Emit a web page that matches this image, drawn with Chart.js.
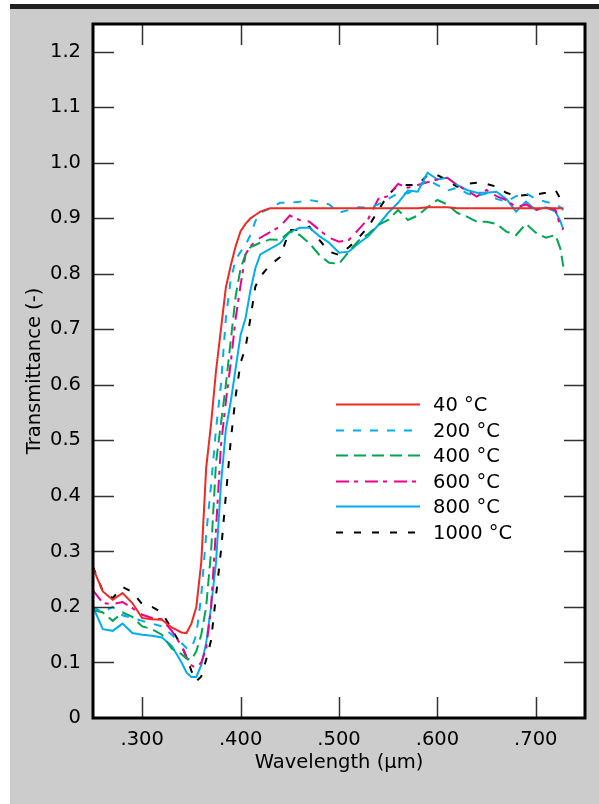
<!DOCTYPE html>
<html>
<head>
<meta charset="utf-8">
<title>Transmittance vs wavelength</title>
<script src="https://cdn.jsdelivr.net/npm/chart.js@4.4.1/dist/chart.umd.min.js"></script>
<style>
  html, body { margin: 0; padding: 0; background: #fff; }
  body { width: 599px; height: 804px; position: relative; overflow: hidden; }
  .rule { position: absolute; left: 10px; top: 4px; right: 0; height: 5px; background: #231f20; }
  .panel { position: absolute; left: 10px; top: 9px; right: 0; bottom: 0; background: #cccccc; }
  canvas { position: absolute; left: 0; top: 0; }
</style>
</head>
<body>
<div class="rule"></div>
<div class="panel"></div>
<canvas id="transmittance" width="599" height="804"></canvas>
<script>
// wavelength grid in µm (finer steps through the absorption edge)
const wavelength = [
  0.25, 0.26, 0.27, 0.28, 0.29, 0.30, 0.31, 0.32, 0.33, 0.34,
  0.345, 0.35, 0.355, 0.36, 0.365, 0.37, 0.375, 0.38, 0.385, 0.39,
  0.395, 0.40, 0.405, 0.41, 0.415, 0.42, 0.43, 0.44, 0.45, 0.46,
  0.47, 0.48, 0.49, 0.50, 0.51, 0.52, 0.53, 0.54, 0.55, 0.56,
  0.57, 0.58, 0.59, 0.60, 0.61, 0.62, 0.63, 0.64, 0.65, 0.66,
  0.67, 0.68, 0.69, 0.70, 0.71, 0.72, 0.725, 0.728
];

const t40 = [
  0.270, 0.228, 0.213, 0.225, 0.207, 0.180, 0.178, 0.177, 0.163, 0.154,
  0.153, 0.170, 0.200, 0.280, 0.450, 0.530, 0.625, 0.700, 0.775, 0.815,
  0.850, 0.877, 0.890, 0.900, 0.906, 0.912, 0.918, 0.918, 0.918, 0.918,
  0.918, 0.918, 0.918, 0.918, 0.918, 0.918, 0.918, 0.918, 0.918, 0.918,
  0.918, 0.918, 0.920, 0.920, 0.920, 0.918, 0.918, 0.918, 0.918, 0.918,
  0.918, 0.918, 0.918, 0.918, 0.918, 0.918, 0.918, 0.918
];

const t200 = [
  0.200, 0.190, 0.200, 0.185, 0.180, 0.175, 0.170, 0.165, 0.150, 0.135,
  0.126, 0.125, 0.150, 0.220, 0.330, 0.420, 0.520, 0.600, 0.720, 0.790,
  0.825, 0.840, 0.852, 0.870, 0.895, 0.910, 0.918, 0.928, 0.928, 0.930,
  0.933, 0.930, 0.925, 0.910, 0.915, 0.920, 0.919, 0.925, 0.935, 0.945,
  0.945, 0.955, 0.970, 0.960, 0.950, 0.955, 0.945, 0.940, 0.945, 0.935,
  0.930, 0.940, 0.945, 0.935, 0.930, 0.925, 0.920, 0.915
];

const t400 = [
  0.195, 0.190, 0.175, 0.190, 0.182, 0.165, 0.160, 0.150, 0.125, 0.115,
  0.107, 0.105, 0.120, 0.150, 0.200, 0.300, 0.460, 0.530, 0.600, 0.680,
  0.760, 0.810, 0.835, 0.848, 0.852, 0.856, 0.862, 0.861, 0.876, 0.870,
  0.855, 0.834, 0.820, 0.818, 0.840, 0.860, 0.872, 0.888, 0.897, 0.915,
  0.897, 0.905, 0.920, 0.933, 0.925, 0.910, 0.903, 0.894, 0.894, 0.890,
  0.876, 0.870, 0.890, 0.874, 0.865, 0.870, 0.845, 0.813
];

const t600 = [
  0.230, 0.207, 0.205, 0.209, 0.198, 0.186, 0.180, 0.178, 0.157, 0.130,
  0.110, 0.095, 0.090, 0.100, 0.125, 0.200, 0.340, 0.490, 0.570, 0.640,
  0.720, 0.780, 0.835, 0.850, 0.858, 0.865, 0.875, 0.885, 0.905, 0.897,
  0.894, 0.879, 0.865, 0.858, 0.861, 0.880, 0.900, 0.935, 0.940, 0.962,
  0.955, 0.960, 0.965, 0.970, 0.973, 0.960, 0.950, 0.939, 0.951, 0.940,
  0.933, 0.920, 0.925, 0.915, 0.920, 0.915, 0.885, 0.880
];

const t800 = [
  0.200, 0.160, 0.157, 0.170, 0.153, 0.150, 0.148, 0.145, 0.130, 0.100,
  0.082, 0.074, 0.074, 0.095, 0.135, 0.200, 0.280, 0.420, 0.520, 0.570,
  0.630, 0.690, 0.720, 0.770, 0.810, 0.835, 0.845, 0.855, 0.875, 0.883,
  0.883, 0.868, 0.856, 0.838, 0.840, 0.855, 0.868, 0.888, 0.910, 0.928,
  0.950, 0.948, 0.982, 0.970, 0.973, 0.960, 0.951, 0.946, 0.946, 0.948,
  0.935, 0.912, 0.930, 0.915, 0.920, 0.912, 0.895, 0.880
];

const t1000 = [
  0.272, 0.228, 0.216, 0.236, 0.227, 0.205, 0.200, 0.190, 0.160, 0.130,
  0.110, 0.085, 0.066, 0.075, 0.105, 0.140, 0.220, 0.300, 0.400, 0.500,
  0.580, 0.640, 0.667, 0.720, 0.777, 0.795, 0.816, 0.830, 0.879, 0.879,
  0.885, 0.861, 0.840, 0.834, 0.848, 0.865, 0.885, 0.915, 0.942, 0.960,
  0.960, 0.960, 0.978, 0.978, 0.968, 0.957, 0.962, 0.964, 0.962, 0.957,
  0.946, 0.940, 0.942, 0.943, 0.946, 0.951, 0.935, 0.930
];

const seriesLabels = ["40 °C", "200 °C", "400 °C", "600 °C", "800 °C", "1000 °C"];
const xTicks = [0.3, 0.4, 0.5, 0.6, 0.7];
const yTicks = [0, 0.1, 0.2, 0.3, 0.4, 0.5, 0.6, 0.7, 0.8, 0.9, 1.0, 1.1, 1.2];

const FONT = { family: "'DejaVu Sans', sans-serif", size: 19.5 };

function points(values) {
  return wavelength.map((w, i) => ({ x: w, y: values[i] }));
}

function line(label, values, color, dash) {
  return {
    label: label,
    data: points(values),
    borderColor: color,
    borderWidth: 2,
    borderDash: dash,
    pointRadius: 0,
    tension: 0,
    fill: false,
  };
}

// white plot area, inward tick marks on all four sides, heavy frame, legend block
const framePlugin = {
  id: "frame",
  beforeDraw(chart) {
    const { ctx, chartArea: a } = chart;
    ctx.save();
    ctx.fillStyle = "#fff";
    ctx.fillRect(a.left, a.top, a.right - a.left, a.bottom - a.top);
    ctx.restore();
  },
  afterDatasetsDraw(chart) {
    const { ctx, chartArea: a, scales } = chart;
    const len = 21;
    ctx.save();
    ctx.strokeStyle = "#333";
    ctx.lineWidth = 1.5;
    ctx.beginPath();
    xTicks.forEach((v) => {
      const px = Math.round(scales.x.getPixelForValue(v)) + 0.5;
      ctx.moveTo(px, a.top);
      ctx.lineTo(px, a.top + len);
      ctx.moveTo(px, a.bottom);
      ctx.lineTo(px, a.bottom - len);
    });
    yTicks.forEach((v) => {
      if (v === 0) return;
      const py = Math.round(scales.y.getPixelForValue(v)) + 0.5;
      ctx.moveTo(a.left, py);
      ctx.lineTo(a.left + len, py);
      ctx.moveTo(a.right, py);
      ctx.lineTo(a.right - len, py);
    });
    ctx.stroke();

    ctx.strokeStyle = "#000";
    ctx.lineWidth = 3;
    ctx.strokeRect(a.left, a.top, a.right - a.left, a.bottom - a.top);

    // legend
    const x0 = 336, x1 = 420, tx = 433, y0 = 404, gap = 25.5;
    ctx.font = FONT.size + "px " + FONT.family;
    ctx.textBaseline = "middle";
    ctx.textAlign = "left";
    chart.data.datasets.forEach((ds, i) => {
      const y = Math.round(y0 + i * gap) + 0.5;
      ctx.strokeStyle = ds.borderColor;
      ctx.lineWidth = 2;
      ctx.setLineDash(ds.borderDash || []);
      ctx.beginPath();
      ctx.moveTo(x0, y);
      ctx.lineTo(x1, y);
      ctx.stroke();
      ctx.setLineDash([]);
      ctx.fillStyle = "#000";
      ctx.fillText(ds.label, tx, y + 1);
    });
    ctx.restore();
  },
};

Chart.defaults.color = "#000";

new Chart(document.getElementById("transmittance"), {
  type: "line",
  data: {
    datasets: [
      line(seriesLabels[0], t40, "#ee2a24", []),
      line(seriesLabels[1], t200, "#00aeef", [8, 9]),
      line(seriesLabels[2], t400, "#00a651", [12, 6]),
      line(seriesLabels[3], t600, "#ec008c", [13, 5, 4, 7]),
      line(seriesLabels[4], t800, "#00aeef", []),
      line(seriesLabels[5], t1000, "#000000", [7, 11]),
    ],
  },
  options: {
    responsive: false,
    animation: false,
    devicePixelRatio: 1,
    layout: { padding: { top: 24, right: 14, left: 0, bottom: 0 } },
    plugins: {
      legend: { display: false },
      tooltip: { enabled: false },
    },
    scales: {
      x: {
        type: "linear",
        min: 0.25,
        max: 0.75,
        afterBuildTicks: (scale) => {
          scale.ticks = xTicks.map((v) => ({ value: v }));
        },
        afterFit: (scale) => {
          scale.height = 86;
        },
        grid: { display: false, drawTicks: false },
        border: { display: false },
        ticks: {
          font: FONT,
          padding: 10,
          autoSkip: false,
          maxRotation: 0,
          callback: (v) => "." + Math.round(v * 1000),
        },
        title: {
          display: true,
          text: "Wavelength (μm)",
          font: FONT,
          padding: { top: 0, bottom: 29 },
        },
      },
      y: {
        min: 0,
        max: 1.25,
        afterBuildTicks: (scale) => {
          scale.ticks = yTicks.map((v) => ({ value: v }));
        },
        afterFit: (scale) => {
          scale.width = 93;
        },
        grid: { display: false, drawTicks: false },
        border: { display: false },
        ticks: {
          font: FONT,
          padding: 12,
          autoSkip: false,
          callback: (v) => (v === 0 ? "0" : v.toFixed(1)),
        },
        title: {
          display: true,
          text: "Transmittance (-)",
          font: FONT,
          padding: { top: 23, bottom: 0 },
        },
      },
    },
  },
  plugins: [framePlugin],
});
</script>
</body>
</html>
